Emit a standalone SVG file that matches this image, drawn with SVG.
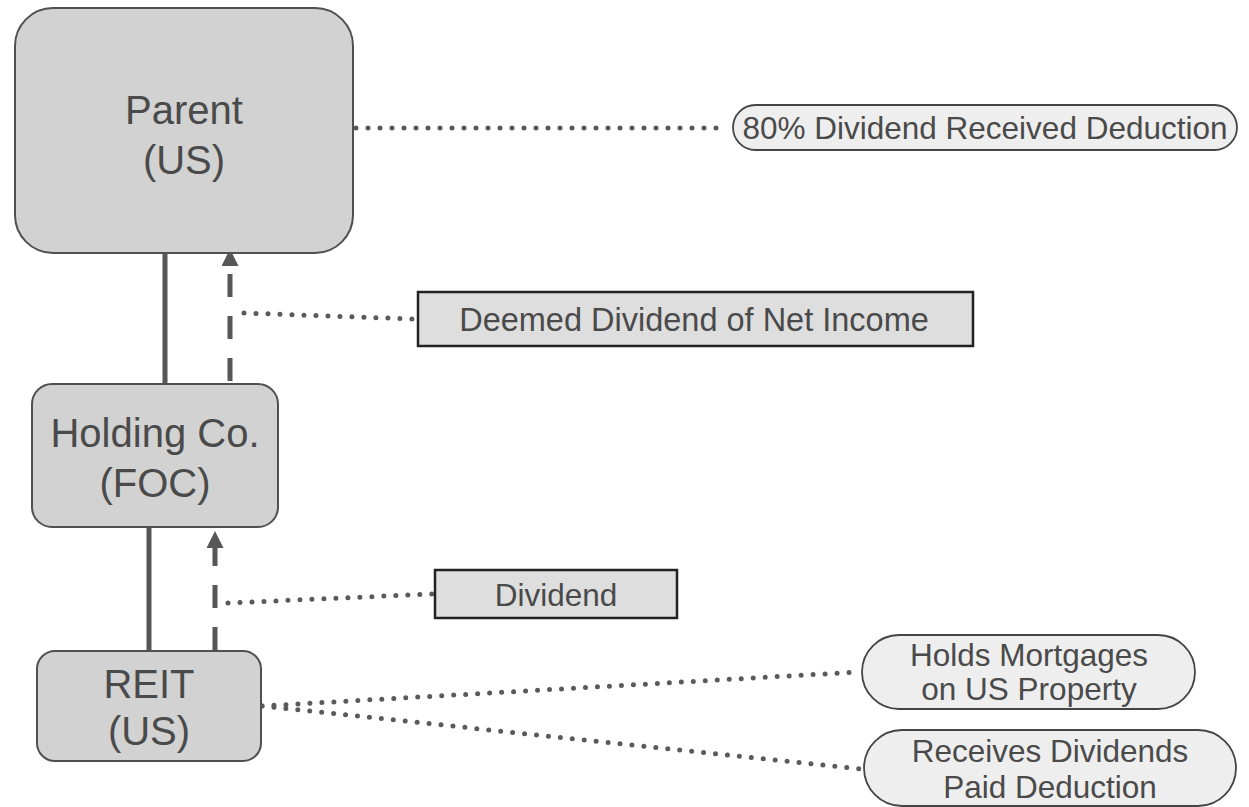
<svg xmlns="http://www.w3.org/2000/svg" width="1249" height="807" viewBox="0 0 1249 807">
<style>
text{font-family:"Liberation Sans",Arial,Helvetica,sans-serif;fill:#4a4a4a;text-anchor:middle}
.node{fill:#d2d2d2;stroke:#505050;stroke-width:2}
.label{fill:#dedede;stroke:#222;stroke-width:2.5}
.pill{fill:#eeeeee;stroke:#444;stroke-width:1.8}
.solid{stroke:#575757;stroke-width:5;fill:none}
.dash{stroke:#575757;stroke-width:5;fill:none;stroke-dasharray:23 19}
.dot{stroke:#5a5a5a;stroke-width:5;fill:none;stroke-linecap:round;stroke-dasharray:0 12}
.big{font-size:40px}
.mid{font-size:31.5px}
.lg{font-size:32.5px}
</style>
<defs>
<marker id="arr" viewBox="0 0 17 17" refX="0" refY="8.5" markerWidth="17" markerHeight="17" markerUnits="userSpaceOnUse" orient="auto">
<path d="M0,0 L17,8.5 L0,17 z" fill="#575757"/>
</marker>
</defs>
<g id="connectors">
<line class="solid" x1="165" y1="253" x2="165" y2="384"/>
<path class="dash" d="M230,381 V266" marker-end="url(#arr)"/>
<line class="solid" x1="149" y1="527" x2="149" y2="651"/>
<path class="dash" d="M215,650 V548" marker-end="url(#arr)"/>
<line class="dot" x1="356" y1="128" x2="727" y2="128"/>
<line class="dot" x1="244" y1="313" x2="413" y2="319"/>
<line class="dot" x1="228" y1="603" x2="432" y2="594"/>
<line class="dot" x1="262" y1="706" x2="858" y2="672"/>
<line class="dot" x1="262" y1="706" x2="860" y2="769"/>
</g>
<g id="parent">
<rect class="node" x="15" y="8" width="338" height="245" rx="38"/>
<text class="big" x="184" y="124">Parent</text>
<text class="big" x="184" y="174">(US)</text>
</g>
<g id="holding">
<rect class="node" x="32" y="384" width="246" height="143" rx="20"/>
<text class="big" x="155" y="447">Holding Co.</text>
<text class="big" x="155" y="497">(FOC)</text>
</g>
<g id="reit">
<rect class="node" x="37" y="651" width="224" height="110" rx="18"/>
<text class="big" x="149" y="698">REIT</text>
<text class="big" x="149" y="745">(US)</text>
</g>
<g id="drd">
<rect class="pill" x="733" y="105" width="504" height="45" rx="22.5"/>
<text class="mid" x="985" y="139">80% Dividend Received Deduction</text>
</g>
<g id="deemed">
<rect class="label" x="418" y="292" width="555" height="54"/>
<text class="lg" x="694" y="331">Deemed Dividend of Net Income</text>
</g>
<g id="dividend">
<rect class="label" x="435" y="570" width="242" height="48"/>
<text class="mid" x="556" y="606">Dividend</text>
</g>
<g id="mortgages">
<rect class="pill" x="862" y="635" width="333" height="74" rx="37"/>
<text class="mid" x="1029" y="666">Holds Mortgages</text>
<text class="mid" x="1029" y="700">on US Property</text>
</g>
<g id="dpd">
<rect class="pill" x="864" y="730" width="372" height="76" rx="38"/>
<text class="mid" x="1050" y="762">Receives Dividends</text>
<text class="mid" x="1050" y="798">Paid Deduction</text>
</g>
</svg>
